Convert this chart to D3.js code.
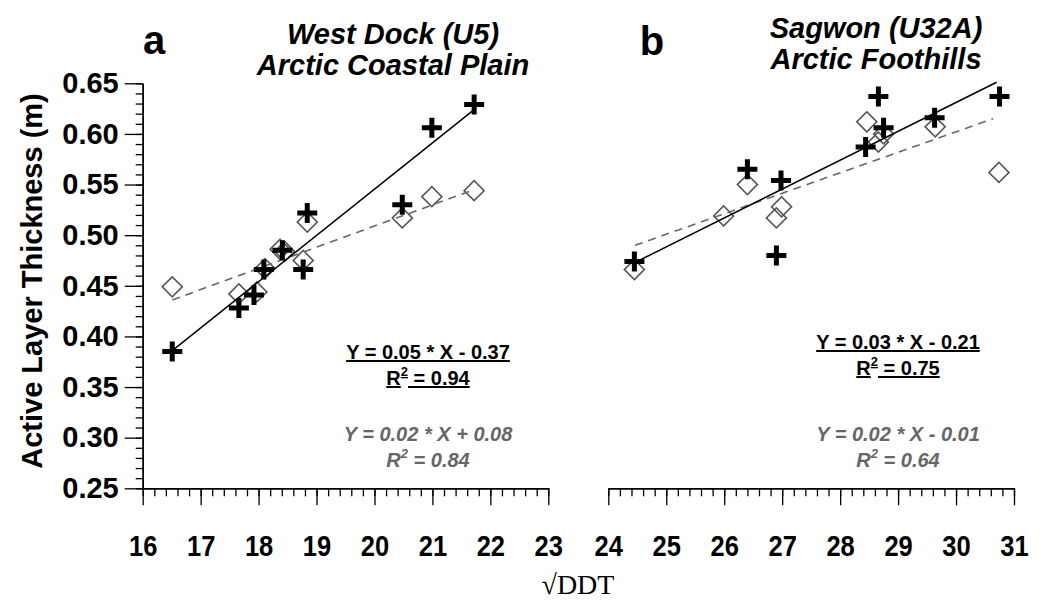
<!DOCTYPE html>
<html>
<head>
<meta charset="utf-8">
<script src="https://cdn.jsdelivr.net/npm/d3@7"></script>
<style>
  body { margin: 0; background: #fff; }
  text { font-family: "Liberation Sans", Arial, sans-serif; }
</style>
</head>
<body>
<svg id="chart" width="1039" height="602"></svg>
<script>
// tick values
var xTicksA = [16, 17, 18, 19, 20, 21, 22, 23];
var xTicksB = [24, 25, 26, 27, 28, 29, 30, 31];
var yTicks = [0.25, 0.30, 0.35, 0.40, 0.45, 0.50, 0.55, 0.60, 0.65];

// West Dock (U5): [sqrt(DDT), ALT]
var wdPlus = [[16.51, 0.385], [17.66, 0.428], [17.92, 0.441], [18.09, 0.466], [18.41, 0.485],
              [18.77, 0.466], [18.84, 0.522], [20.48, 0.530], [20.99, 0.606], [21.72, 0.629]];
var wdDiamond = [[16.51, 0.449], [17.66, 0.442], [17.97, 0.444], [18.11, 0.467], [18.37, 0.486], [18.45, 0.484],
                 [18.77, 0.475], [18.84, 0.513], [20.48, 0.517], [20.99, 0.538], [21.72, 0.544]];
// Sagwon (U32A)
var sgPlus = [[24.45, 0.474], [26.40, 0.565], [26.98, 0.554], [26.90, 0.480], [28.44, 0.587],
              [28.66, 0.637], [28.75, 0.606], [29.63, 0.616], [30.75, 0.637]];
var sgDiamond = [[24.45, 0.466], [25.99, 0.519], [26.40, 0.550], [26.90, 0.517], [26.99, 0.528],
                 [28.46, 0.612], [28.66, 0.592], [28.75, 0.600], [29.64, 0.607], [30.74, 0.562]];

// regression lines (end points)
var wdFitPlus = [[16.51, 0.386], [21.72, 0.624]];
var wdFitDiamond = [[16.51, 0.436], [21.72, 0.545]];
var sgFitPlus = [[24.46, 0.473], [30.70, 0.651]];
var sgFitDiamond = [[24.46, 0.490], [30.64, 0.615]];

// equation texts
var wdEqPlus = ["Y = 0.05 * X - 0.37", "0.94"];
var wdEqDiamond = ["Y = 0.02 * X + 0.08", "0.84"];
var sgEqPlus = ["Y = 0.03 * X - 0.21", "0.75"];
var sgEqDiamond = ["Y = 0.02 * X - 0.01", "0.64"];

var svg = d3.select("#chart");
var grey = "#666";

var y = d3.scaleLinear().domain([0.25, 0.65]).range([488.3, 83.3]);

var plusType = {
    draw: function(ctx, size) {
        var r = Math.sqrt(size) / 2;
        ctx.moveTo(-r, 0); ctx.lineTo(r, 0);
        ctx.moveTo(0, -r); ctx.lineTo(0, r);
    }
};

function range(a, b, step) {
    return d3.range(Math.round((b - a) / step) + 1).map(function(i) { return +(a + i * step).toFixed(3); });
}

function panel(opt) {
    var x = d3.scaleLinear().domain(opt.domain).range(opt.range);
    var g = svg.append("g");

    // x axis, minor then major
    var xa = g.append("g").attr("transform", "translate(0," + y(0.25) + ")");
    xa.append("g")
        .call(d3.axisBottom(x).tickValues(range(opt.domain[0], opt.domain[1], 0.2)).tickSize(8).tickSizeOuter(0).tickFormat(""));
    xa.append("g")
        .call(d3.axisBottom(x).tickValues(opt.ticks).tickSize(17).tickSizeOuter(0).tickPadding(29).tickFormat(d3.format("d")))
        .selectAll("text").attr("font-size", 30).attr("font-weight", "bold").attr("fill", "#000")
        .attr("transform", "scale(0.85,1)");

    // diamonds, fit lines, crosses
    var line = d3.line().x(function(d) { return x(d[0]); }).y(function(d) { return y(d[1]); });
    g.selectAll(".dia").data(opt.diamond).enter().append("path")
        .attr("transform", function(d) { return "translate(" + x(d[0]) + "," + y(d[1]) + ") rotate(45)"; })
        .attr("d", d3.symbol().type(d3.symbolSquare).size(200))
        .attr("fill", "none").attr("stroke", "#555").attr("stroke-width", 1.6);
    g.append("path").datum(opt.fitDiamond).attr("d", line)
        .attr("fill", "none").attr("stroke", grey).attr("stroke-width", 1.6).attr("stroke-dasharray", "8,6");
    g.append("path").datum(opt.fitPlus).attr("d", line)
        .attr("fill", "none").attr("stroke", "#000").attr("stroke-width", 1.5);
    g.selectAll(".plus").data(opt.plus).enter().append("path")
        .attr("transform", function(d) { return "translate(" + x(d[0]) + "," + y(d[1]) + ")"; })
        .attr("d", d3.symbol().type(plusType).size(400))
        .attr("fill", "none").attr("stroke", "#000").attr("stroke-width", 5);

    // equations
    function eq(txt, cx, y1, y2, color, italic, underline) {
        var t = g.append("g").attr("font-size", 20).attr("font-weight", "bold").attr("fill", color)
            .attr("font-style", italic ? "italic" : "normal").attr("text-anchor", "middle");
        t.append("text").attr("x", cx).attr("y", y1).text(txt[0])
            .style("text-decoration", underline ? "underline" : "none");
        var r = t.append("text").attr("x", cx).attr("y", y2)
            .style("text-decoration", underline ? "underline" : "none");
        r.append("tspan").text("R");
        r.append("tspan").attr("dy", -9).attr("font-size", 13).text("2");
        r.append("tspan").attr("dy", 9).text(" = " + txt[1]);
    }
    eq(opt.eqPlus, opt.eqX, opt.eqY, opt.eqY + 26, "#000", false, true);
    eq(opt.eqDiamond, opt.eqX, 441, 467, grey, true, false);

    // titles
    var tt = g.append("g").attr("font-size", 29).attr("font-weight", "bold").attr("font-style", "italic")
        .attr("text-anchor", "middle");
    tt.append("text").attr("x", opt.titleX).attr("y", opt.titleY).text(opt.title[0]);
    tt.append("text").attr("x", opt.titleX).attr("y", opt.titleY + 31).text(opt.title[1]);
    g.append("text").attr("x", opt.letterX).attr("y", opt.letterY).attr("font-size", 40).attr("font-weight", "bold")
        .attr("text-anchor", "middle").text(opt.letter);
    return x;
}

panel({
    domain: [16, 23], range: [142.7, 548.3], ticks: xTicksA,
    plus: wdPlus, diamond: wdDiamond, fitPlus: wdFitPlus, fitDiamond: wdFitDiamond,
    eqPlus: wdEqPlus, eqDiamond: wdEqDiamond, eqX: 428, eqY: 359,
    title: ["West Dock (U5)", "Arctic Coastal Plain"], titleX: 393, titleY: 44,
    letter: "a", letterX: 154, letterY: 54
});
panel({
    domain: [24, 31], range: [608.3, 1014], ticks: xTicksB,
    plus: sgPlus, diamond: sgDiamond, fitPlus: sgFitPlus, fitDiamond: sgFitDiamond,
    eqPlus: sgEqPlus, eqDiamond: sgEqDiamond, eqX: 898, eqY: 349,
    title: ["Sagwon (U32A)", "Arctic Foothills"], titleX: 876, titleY: 38,
    letter: "b", letterX: 652, letterY: 55
});

// y axis (left panel only)
var ya = svg.append("g").attr("transform", "translate(142.7,0)");
ya.append("g")
    .call(d3.axisLeft(y).tickValues(range(0.25, 0.65, 0.01)).tickSize(7).tickSizeOuter(0).tickFormat(""));
ya.append("g")
    .call(d3.axisLeft(y).tickValues(yTicks).tickSize(18).tickSizeOuter(0).tickPadding(6).tickFormat(d3.format(".2f")))
    .selectAll("text").attr("font-size", 29).attr("font-weight", "bold").attr("fill", "#000");

svg.selectAll(".domain").attr("stroke", "#000").attr("stroke-width", 1.5);
svg.selectAll(".tick line").attr("stroke", "#000").attr("stroke-width", 1.3);

// axis titles
svg.append("text")
    .attr("transform", "translate(42,281) rotate(-90)")
    .attr("text-anchor", "middle").attr("font-size", 29).attr("font-weight", "bold")
    .text("Active Layer Thickness (m)");
svg.append("text")
    .attr("x", 578).attr("y", 594).attr("text-anchor", "middle")
    .attr("font-size", 28).style("font-family", "'Liberation Serif', 'DejaVu Serif', serif")
    .text("\u221ADDT");
</script>
</body>
</html>
